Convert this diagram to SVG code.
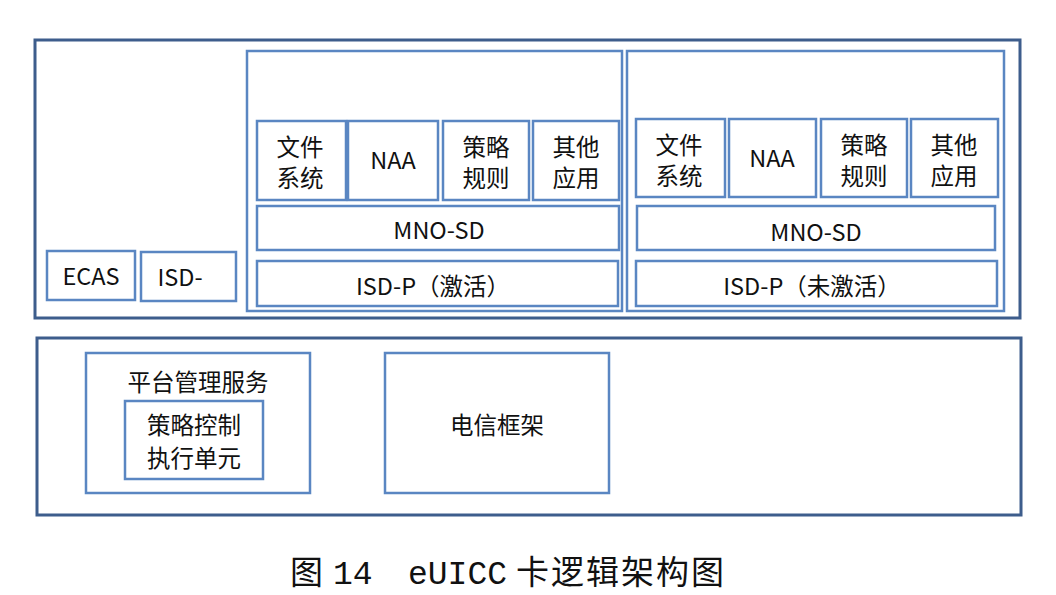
<svg xmlns="http://www.w3.org/2000/svg" width="1056" height="595" viewBox="0 0 1056 595">
<style>
.outer{fill:none;stroke:#3d5d8c;stroke-width:3}
.box{fill:#fff;stroke:#5a86c2;stroke-width:2.5}
.t{font-family:"Noto Sans CJK SC","Liberation Sans",sans-serif;font-size:23.5px;fill:#111;text-anchor:middle}
.cap{font-family:"Liberation Serif","Noto Sans CJK SC",serif;font-size:33px;fill:#111}
</style>
<rect width="1056" height="595" fill="#fff"/>
<g id="top-frame"><rect class="outer" x="35" y="40" width="985" height="278"/></g>
<g id="ecas"><rect class="box" x="47" y="251" width="88" height="49"/><text class="t" x="91" y="285">ECAS</text></g>
<g id="isd"><rect class="box" x="141" y="252" width="95" height="49"/><text class="t" x="180" y="286">ISD-</text></g>
<g id="profile-active">
<rect class="box" x="247" y="51" width="375" height="260"/>
<g id="a-fs"><rect class="box" x="257" y="121" width="89" height="79"/><text class="t" x="300" y="156">文件</text><text class="t" x="300" y="187">系统</text></g>
<g id="a-naa"><rect class="box" x="348" y="121" width="90" height="79"/><text class="t" x="393" y="169">NAA</text></g>
<g id="a-policy"><rect class="box" x="443" y="121" width="86" height="79"/><text class="t" x="486" y="156">策略</text><text class="t" x="486" y="187">规则</text></g>
<g id="a-other"><rect class="box" x="533" y="121" width="86" height="79"/><text class="t" x="576" y="156">其他</text><text class="t" x="576" y="187">应用</text></g>
<g id="a-mno"><rect class="box" x="257" y="206" width="362" height="44"/><text class="t" x="439" y="239">MNO-SD</text></g>
<g id="a-isdp"><rect class="box" x="257" y="261" width="361" height="45"/><text class="t" x="433" y="295">ISD-P（激活）</text></g>
</g>
<g id="profile-inactive">
<rect class="box" x="627" y="51" width="377" height="260"/>
<g id="b-fs"><rect class="box" x="636" y="119" width="89" height="78"/><text class="t" x="679" y="154">文件</text><text class="t" x="679" y="185">系统</text></g>
<g id="b-naa"><rect class="box" x="729" y="119" width="87" height="78"/><text class="t" x="772" y="167">NAA</text></g>
<g id="b-policy"><rect class="box" x="821" y="119" width="86" height="78"/><text class="t" x="864" y="154">策略</text><text class="t" x="864" y="185">规则</text></g>
<g id="b-other"><rect class="box" x="911" y="119" width="87" height="78"/><text class="t" x="954" y="154">其他</text><text class="t" x="954" y="185">应用</text></g>
<g id="b-mno"><rect class="box" x="637" y="206" width="358" height="44"/><text class="t" x="816" y="241">MNO-SD</text></g>
<g id="b-isdp"><rect class="box" x="636" y="261" width="361" height="45"/><text class="t" x="812" y="295">ISD-P（未激活）</text></g>
</g>
<g id="bottom-frame"><rect class="outer" x="37" y="338" width="984" height="177"/></g>
<g id="platform"><rect class="box" x="86" y="353" width="224" height="140"/><text class="t" x="198" y="391">平台管理服务</text></g>
<g id="policy-enforce"><rect class="box" x="125" y="401" width="138" height="78"/><text class="t" x="194" y="434">策略控制</text><text class="t" x="194" y="467">执行单元</text></g>
<g id="telecom"><rect class="box" x="385" y="353" width="224" height="140"/><text class="t" x="497" y="434">电信框架</text></g>
<g id="connectors"></g>
<g id="caption">
<text class="cap" x="290" y="584" style="font-family:'Noto Sans CJK SC',serif">图</text>
<text class="cap" x="333" y="584" style="font-family:'Liberation Mono',monospace">14</text>
<text class="cap" x="408" y="584" style="font-family:'Liberation Mono',monospace">eUICC</text>
<text class="cap" x="516" y="584" style="font-family:'Noto Sans CJK SC',serif;letter-spacing:2px">卡逻辑架构图</text>
</g>
</svg>
